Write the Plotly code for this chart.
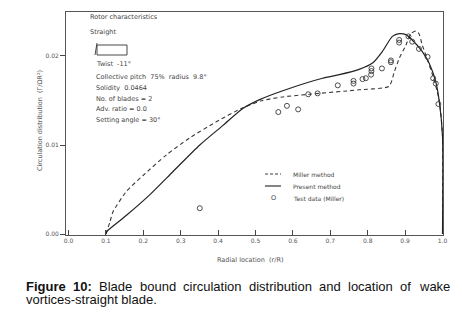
import plotly.graph_objects as go

# ---- data ----
present_x = [0.100, 0.103, 0.155, 0.217, 0.279, 0.351, 0.413, 0.466, 0.511, 0.573, 0.679, 0.724, 0.777,
             0.813, 0.839, 0.866, 0.884, 0.902, 0.919, 0.946, 0.964, 0.982, 0.991, 1.000, 1.000]
present_y = [0.0000, 0.0003, 0.0021, 0.0044, 0.0070, 0.0100, 0.0122, 0.0141, 0.0151, 0.0161, 0.0175, 0.0179, 0.0185,
             0.0192, 0.0205, 0.0222, 0.0225, 0.0224, 0.0218, 0.0205, 0.0192, 0.0171, 0.0150, 0.0110, 0.0000]

miller_x = [0.100, 0.111, 0.119, 0.155, 0.200, 0.262, 0.324, 0.395, 0.462, 0.519, 0.573, 0.644, 0.777, 0.857,
            0.871, 0.884, 0.902, 0.915, 0.929, 0.937, 0.946, 0.959, 0.973, 0.986, 0.993, 1.000, 1.000]
miller_y = [0.0000, 0.0014, 0.0025, 0.0048, 0.0066, 0.0089, 0.0108, 0.0126, 0.0141, 0.0150, 0.0154, 0.0157, 0.0162, 0.0166,
            0.0182, 0.0197, 0.0212, 0.0225, 0.0228, 0.0225, 0.0212, 0.0197, 0.0179, 0.0160, 0.0145, 0.0110, 0.0000]

test_x = [0.351, 0.561, 0.584, 0.614, 0.641, 0.666, 0.720, 0.762, 0.762, 0.786, 0.795, 0.809, 0.810,
          0.810, 0.838, 0.862, 0.862, 0.884, 0.884, 0.909, 0.919, 0.937, 0.960, 0.975, 0.982, 0.989]
test_y = [0.0029, 0.0137, 0.0144, 0.0140, 0.0157, 0.0158, 0.0167, 0.0172, 0.0169, 0.0174, 0.0175, 0.0179, 0.0183,
          0.0186, 0.0186, 0.0195, 0.0193, 0.0218, 0.0215, 0.0222, 0.0216, 0.0208, 0.0199, 0.0175, 0.0169, 0.0146]

x_ticks = [0.0, 0.1, 0.2, 0.3, 0.4, 0.5, 0.6, 0.7, 0.8, 0.9, 1.0]
x_tick_labels = ["0.0", "0.1", "0.2", "0.3", "0.4", "0.5", "0.6", "0.7", "0.8", "0.9", "1.0"]
y_ticks = [0.0, 0.01, 0.02]
y_tick_labels = ["0.00", "0.01", "0.02"]

rotor_lines = ["Twist  -11°", "Collective pitch  75%  radius  9.8°", "Solidity  0.0464",
               "No. of blades = 2", "Adv. ratio = 0.0", "Setting angle = 30°"]
legend_labels = ["Miller method", "Present method", "Test data (Miller)"]
caption_line1 = ["Figure", "10:", "Blade", "bound", "circulation", "distribution", "and", "location", "of", "wake"]
caption_bold_words = 2
caption_line2 = "vortices-straight blade."

# page body has an 8px margin; work in reference-pixel coordinates and shift
OFF = 8
W, H = 462 - 2 * OFF, 315 - 2 * OFF
L, R, T, B = 66 - OFF, 443 - OFF, 12 - OFF, 235 - OFF
INK = "#3a3a3a"
FONT = "DejaVu Sans"
CAP_FONT = "Liberation Sans, Arial"
CAP_SIZE = 13


def px(x):
    return (x - OFF - L) / (R - L)


def py(y):
    return (B - (y - OFF)) / (B - T)


# Arial / Liberation Sans advance widths (per 1000 em) for justifying the caption line
REG = dict(a=556, b=556, c=500, d=556, e=556, f=278, g=556, h=556, i=222, k=500, l=222, n=556, o=556,
           r=333, s=500, t=278, u=556, w=722)
BOLD = {"F": 611, "i": 278, "g": 611, "u": 611, "r": 389, "e": 556, "1": 556, "0": 556, ":": 333}
REG["B"] = 667


def text_w(word, bold):
    tbl = BOLD if bold else REG
    return sum(tbl.get(ch, 556) for ch in word) * CAP_SIZE / 1000.0


fig = go.Figure()
fig.add_trace(go.Scatter(x=miller_x, y=miller_y, mode="lines",
                         line=dict(color=INK, width=1.1, dash="4px,3px", shape="spline", smoothing=0.6),
                         name="Miller method", showlegend=False))
fig.add_trace(go.Scatter(x=present_x, y=present_y, mode="lines",
                         line=dict(color="#222", width=1.2, shape="spline", smoothing=0.6),
                         name="Present method", showlegend=False))
fig.add_trace(go.Scatter(x=test_x, y=test_y, mode="markers",
                         marker=dict(symbol="circle-open", size=5, color=INK, line=dict(width=0.9)),
                         name="Test data (Miller)", showlegend=False))

ann = []
small = dict(family=FONT, size=6.5, color="#444444")
ann.append(dict(x=px(89), y=py(17), text="Rotor characteristics", font=small))
ann.append(dict(x=px(89), y=py(32), text="Straight", font=small))
for t, yy in zip(rotor_lines, [64, 77, 88, 99, 109, 120]):
    ann.append(dict(x=px(95), y=py(yy), text=t, font=small))
for t, yy in zip(legend_labels, [174, 186, 198]):
    ann.append(dict(x=px(292), y=py(yy), text=t, font=dict(family=FONT, size=6, color="#444444")))
ann.append(dict(x=px(270), y=py(198), text="O", font=dict(family=FONT, size=6.5, color="#444444")))
ann.append(dict(x=px(250), y=py(260), text="Radial location  (r/R)", xanchor="center",
                font=dict(family=FONT, size=6.5, color="#555555")))
ann.append(dict(x=px(40), y=py(121), text="Circulation distribution  (Γ/ΩR²)", xanchor="center",
                textangle=-90, font=dict(family=FONT, size=6.5, color="#555555")))

# justified first caption line: one annotation per word
cap_left, cap_right = 25, 448
widths = [text_w(wd, i < caption_bold_words) for i, wd in enumerate(caption_line1)]
gap = (cap_right - cap_left - sum(widths)) / (len(caption_line1) - 1)
xpos = cap_left
for i, (wd, wdt) in enumerate(zip(caption_line1, widths)):
    txt = "<b>%s</b>" % wd if i < caption_bold_words else wd
    ann.append(dict(x=px(xpos), y=py(286), text=txt,
                    font=dict(family=CAP_FONT, size=CAP_SIZE, color="#111111")))
    xpos += wdt + gap
ann.append(dict(x=px(cap_left), y=py(299), text=caption_line2,
                font=dict(family=CAP_FONT, size=CAP_SIZE, color="#111111")))
for a in ann:
    a.setdefault("xanchor", "left")
    a.update(xref="paper", yref="paper", yanchor="middle", showarrow=False, borderpad=0)

shapes = [
    dict(type="line", x0=px(265), x1=px(281), y0=py(174), y1=py(174), line=dict(color=INK, width=1, dash="3px,2px")),
    dict(type="line", x0=px(265), x1=px(281), y0=py(186), y1=py(186), line=dict(color="#222", width=1.1)),
    dict(type="rect", x0=px(97), x1=px(127), y0=py(55), y1=py(45), line=dict(color="#333", width=0.9)),
    dict(type="line", x0=px(95), x1=px(97), y0=py(55), y1=py(43), line=dict(color="#333", width=0.9)),
]
for s in shapes:
    s.update(xref="paper", yref="paper")

fig.update_layout(
    width=W, height=H, autosize=False,
    margin=dict(l=L, r=W - R, t=T, b=H - B),
    paper_bgcolor="white", plot_bgcolor="white",
    annotations=ann, shapes=shapes, showlegend=False,
    xaxis=dict(range=[-0.0067, 1.0013], tickvals=x_ticks, ticktext=x_tick_labels,
               ticks="inside", ticklen=5, tickcolor="#444", showgrid=False, zeroline=False,
               showline=True, mirror=True, linecolor="#555", linewidth=1,
               tickfont=dict(family=FONT, size=6, color="#555")),
    yaxis=dict(range=[-0.00011, 0.02494], tickvals=y_ticks, ticktext=y_tick_labels,
               ticks="outside", ticklen=5, tickcolor="#444", showgrid=False, zeroline=False,
               showline=True, mirror=True, linecolor="#555", linewidth=1,
               tickfont=dict(family=FONT, size=6, color="#555")),
)

fig.write_html("out.html")
